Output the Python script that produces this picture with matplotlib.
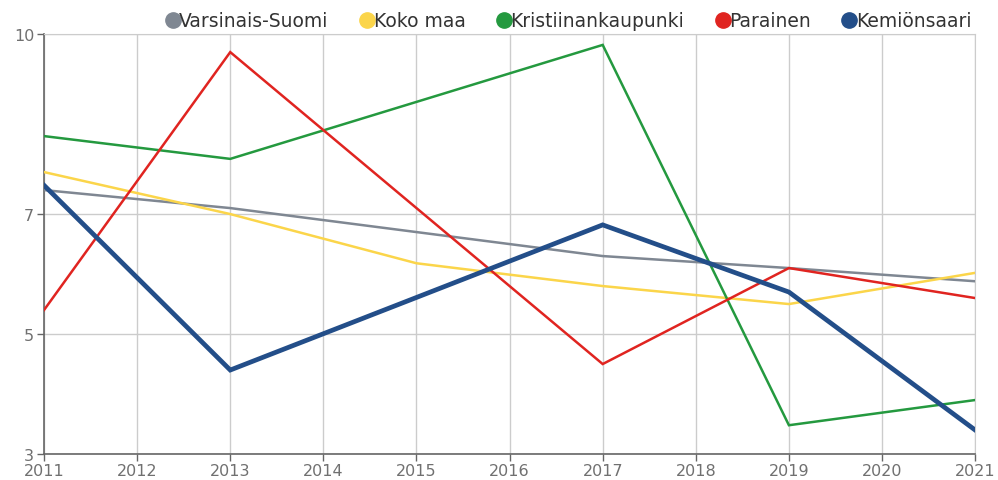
import matplotlib.pyplot as plt
from matplotlib.lines import Line2D

years = [2011, 2013, 2015, 2017, 2019, 2021]

# values
varsinais_suomi = [7.40, 7.10, 6.70, 6.30, 6.10, 5.88]
koko_maa = [7.70, 7.00, 6.18, 5.80, 5.50, 6.02]
kristiinankaupunki = [8.30, 7.92, 8.87, 9.82, 3.48, 3.90]
parainen = [5.40, 9.70, 7.10, 4.50, 6.10, 5.60]
kemionsaari = [7.48, 4.40, 5.61, 6.82, 5.70, 3.40]

series = [
    ("Varsinais-Suomi", varsinais_suomi, "#7f8792", 1.8),
    ("Koko maa", koko_maa, "#fbd54a", 1.8),
    ("Kristiinankaupunki", kristiinankaupunki, "#24993f", 1.8),
    ("Parainen", parainen, "#e02420", 1.8),
    ("Kemiönsaari", kemionsaari, "#234e89", 3.4),
]

y_ticks = [3, 5, 7, 10]
x_ticks = list(range(2011, 2022))

fig = plt.figure(figsize=(9.98, 4.81), dpi=100)
ax = fig.add_axes([0.0441, 0.054, 0.933, 0.873])

for name, vals, color, lw in series:
    ax.plot(years, vals, color=color, lw=lw, solid_joinstyle="miter", zorder=3)

ax.set_xlim(2011, 2021)
ax.set_ylim(3, 10)
ax.set_xticks(x_ticks)
ax.set_yticks(y_ticks)
ax.grid(True, color="#cccccc", lw=1, zorder=0)

for side in ["top", "right"]:
    ax.spines[side].set_color("#cccccc")
for side in ["left", "bottom"]:
    ax.spines[side].set_color("#666666")
    ax.spines[side].set_linewidth(1.2)

ax.tick_params(axis="both", colors="#666666", labelsize=11.5, length=5, width=1)
ax.tick_params(axis="x", pad=1.5)
ax.tick_params(axis="y", pad=2)
for lab in ax.get_xticklabels() + ax.get_yticklabels():
    lab.set_color("#707070")

handles = [Line2D([], [], ls="none", marker="o", markersize=11, color=c) for _, _, c, _ in series]
labels = [s[0] for s in series]
leg = ax.legend(handles, labels, ncol=5, loc="lower right", bbox_to_anchor=(1.0, 1.0),
                frameon=False, fontsize=13.5, handletextpad=-0.2, columnspacing=1.5,
                handlelength=1.1, borderaxespad=0, borderpad=0.2)
for t in leg.get_texts():
    t.set_color("#333333")

fig.savefig("out.png", dpi=100)
